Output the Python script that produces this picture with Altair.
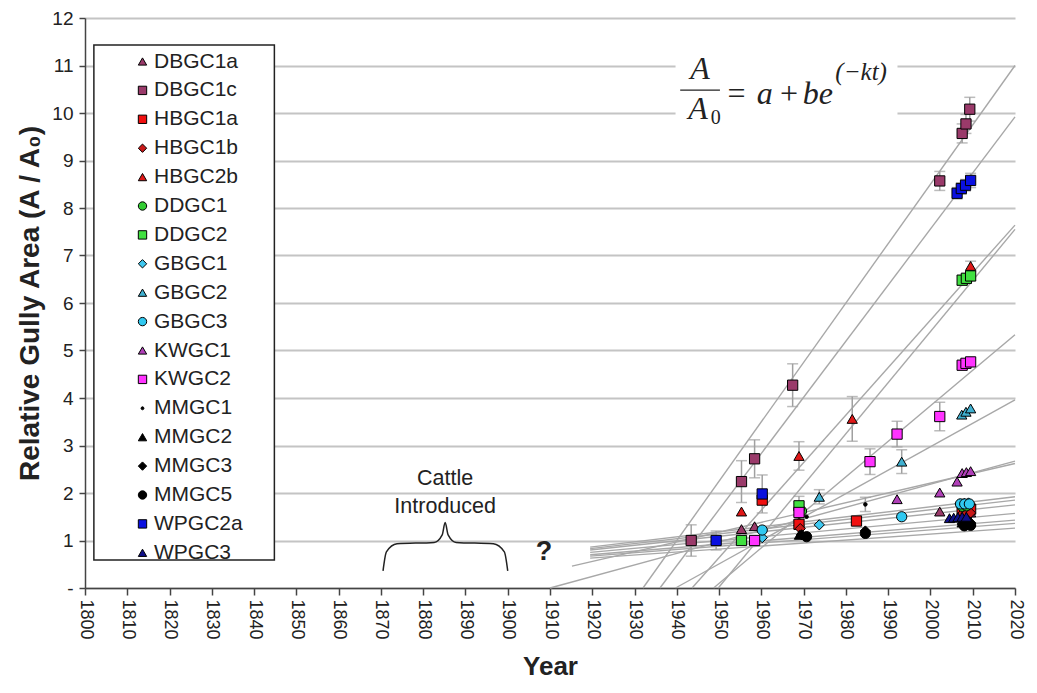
import altair as alt
import pandas as pd

# ---------------- series definitions ----------------
SERIES = ["DBGC1a", "DBGC1c", "HBGC1a", "HBGC1b", "HBGC2b", "DDGC1", "DDGC2",
          "GBGC1", "GBGC2", "GBGC3", "KWGC1", "KWGC2", "MMGC1", "MMGC2",
          "MMGC3", "MMGC5", "WPGC2a", "WPGC3"]
COLORS = ["#9A3A6A", "#9A3A6A", "#F01010", "#C81818", "#E01818", "#33CC33", "#40E040",
          "#40C8F0", "#40B0D0", "#30C8F0", "#B040B8", "#FF33FF", "#000000", "#000000",
          "#000000", "#000000", "#0A10E0", "#10108A"]
DOT = "M-0.35,0A0.35,0.35,0,1,1,0.35,0A0.35,0.35,0,1,1,-0.35,0Z"
SHAPES = ["triangle-up", "square", "square", "diamond", "triangle-up", "circle", "square",
          "diamond", "triangle-up", "circle", "triangle-up", "square", DOT, "triangle-up",
          "diamond", "circle", "square", "triangle-up"]

# observations: (year, A/A0, error half-width)
DBGC1a = [(1955.3, 1.24, 0), (1958.4, 1.30, 0), (1968.9, 1.40, 0), (2002.2, 1.61, 0),
          (2007.5, 1.55, 0), (2008.5, 1.57, 0), (2009.5, 1.59, 0)]
DBGC1c = [(1943.4, 1.00, 0.33), (1955.3, 2.24, 0.44), (1958.4, 2.72, 0.40), (1967.4, 4.27, 0.45),
          (2002.2, 8.57, 0.20), (2007.5, 9.57, 0.20), (2008.4, 9.77, 0.20), (2009.3, 10.08, 0.25)]
HBGC1a = [(1960.2, 1.85, 0), (1968.9, 1.34, 0), (1982.5, 1.41, 0), (2007.5, 1.64, 0),
          (2008.5, 1.65, 0), (2009.5, 1.66, 0)]
HBGC1b = [(1969.2, 1.25, 0), (2007.5, 1.56, 0), (2008.5, 1.57, 0), (2009.5, 1.58, 0)]
HBGC2b = [(1955.3, 1.61, 0), (1968.9, 2.78, 0.30), (1981.5, 3.56, 0.47), (2009.5, 6.78, 0.10)]
DDGC1 = [(1969.5, 1.62, 0), (2007.5, 1.72, 0), (2008.5, 1.73, 0)]
DDGC2 = [(1955.3, 1.00, 0), (1968.9, 1.73, 0.20), (2007.5, 6.48, 0.10), (2008.5, 6.52, 0.10),
         (2009.5, 6.57, 0.10)]
GBGC1 = [(1960.2, 1.06, 0), (1973.7, 1.33, 0), (2007.0, 1.77, 0), (2008.0, 1.78, 0),
         (2009.0, 1.79, 0)]
GBGC2 = [(1973.7, 1.92, 0.15), (1993.2, 2.66, 0.25), (2007.4, 3.65, 0), (2008.4, 3.71, 0),
         (2009.5, 3.78, 0)]
GBGC3 = [(1960.2, 1.22, 0), (1993.2, 1.50, 0), (2007.1, 1.77, 0), (2008.1, 1.77, 0),
         (2009.2, 1.77, 0)]
KWGC1 = [(1992.1, 1.87, 0), (2002.2, 2.01, 0), (2006.3, 2.24, 0), (2007.5, 2.42, 0),
         (2008.5, 2.44, 0), (2009.5, 2.46, 0)]
KWGC2 = [(1958.4, 1.00, 0), (1968.9, 1.59, 0), (1985.7, 2.66, 0.27), (1992.1, 3.24, 0.27),
         (2002.2, 3.61, 0.30), (2007.5, 4.69, 0), (2008.4, 4.73, 0), (2009.5, 4.76, 0)]
MMGC1 = [(1970.7, 1.50, 0), (1984.6, 1.76, 0.15), (2008.0, 1.45, 0)]
MMGC2 = [(1969.0, 1.12, 0), (2007.5, 1.38, 0), (2008.5, 1.39, 0), (2009.5, 1.40, 0)]
MMGC3 = [(1969.5, 1.12, 0), (1984.6, 1.20, 0), (2007.5, 1.35, 0), (2008.5, 1.36, 0),
         (2009.5, 1.37, 0)]
MMGC5 = [(1970.7, 1.08, 0), (1984.6, 1.15, 0), (2008.0, 1.31, 0), (2009.5, 1.32, 0)]
WPGC2a = [(1949.3, 1.00, 0.20), (1960.2, 1.98, 0.40), (2006.3, 8.31, 0.12), (2007.3, 8.41, 0.12),
          (2008.3, 8.48, 0.12), (2009.5, 8.58, 0.15)]
WPGC3 = [(2004.5, 1.47, 0), (2005.5, 1.48, 0), (2006.5, 1.49, 0), (2007.5, 1.50, 0),
         (2008.5, 1.50, 0)]

OBS = {"DBGC1a": DBGC1a, "DBGC1c": DBGC1c, "HBGC1a": HBGC1a, "HBGC1b": HBGC1b,
       "HBGC2b": HBGC2b, "DDGC1": DDGC1, "DDGC2": DDGC2, "GBGC1": GBGC1, "GBGC2": GBGC2,
       "GBGC3": GBGC3, "KWGC1": KWGC1, "KWGC2": KWGC2, "MMGC1": MMGC1, "MMGC2": MMGC2,
       "MMGC3": MMGC3, "MMGC5": MMGC5, "WPGC2a": WPGC2a, "WPGC3": WPGC3}

# fitted trend curves: (year, A/A0)
FIT_DBGC1c = [(1932.0, 0.0), (2020.0, 11.00)]
FIT_WPGC2a = [(1936.0, 0.0), (2020.0, 9.92)]
FIT_HBGC2b = [(1943.6, 0.0), (2020.0, 7.64)]
FIT_DDGC2 = [(1949.8, 0.0), (2020.0, 7.55)]
FIT_KWGC2 = [(1948.7, 0.0), (2020.0, 5.33)]
FIT_GBGC2 = [(1939.7, 0.0), (2020.0, 3.96)]
FIT_KWGC1 = [(1910.0, 0.0), (2020.0, 2.67)]
FIT_MMGC1 = [(1915.2, 0.46), (2020.0, 2.62)]
FIT_GBGC3 = [(1919.5, 0.86), (2020.0, 1.92)]
FIT_GBGC1 = [(1919.5, 0.83), (2020.0, 1.85)]
FIT_DBGC1a = [(1919.5, 0.80), (2020.0, 1.75)]
FIT_HBGC1a = [(1919.5, 0.75), (2020.0, 1.57)]
FIT_WPGC3 = [(1919.5, 0.70), (2020.0, 1.43)]
FIT_MMGC3 = [(1919.5, 0.67), (2020.0, 1.36)]
FIT_MMGC5 = [(1919.5, 0.63), (2020.0, 1.26)]
FITS = {"DBGC1c": FIT_DBGC1c, "WPGC2a": FIT_WPGC2a, "HBGC2b": FIT_HBGC2b,
        "DDGC2": FIT_DDGC2, "KWGC2": FIT_KWGC2, "GBGC2": FIT_GBGC2, "KWGC1": FIT_KWGC1,
        "MMGC1": FIT_MMGC1, "GBGC3": FIT_GBGC3, "GBGC1": FIT_GBGC1, "DBGC1a": FIT_DBGC1a,
        "HBGC1a": FIT_HBGC1a, "WPGC3": FIT_WPGC3, "MMGC3": FIT_MMGC3, "MMGC5": FIT_MMGC5}

# annotations
X_TICKS = list(range(1800, 2021, 10))
Y_TICKS = list(range(0, 13))
LEGEND_BOX = [(1802.1, 1844.8, 0.59, 11.43)]
BRACE = [(1870.5, 0.36), (1871.3, 0.76), (1873.8, 0.93), (1882.6, 0.96), (1884.5, 1.12),
         (1885.2, 1.38), (1885.9, 1.12), (1887.8, 0.96), (1896.6, 0.93), (1899.2, 0.76),
         (1900.0, 0.36)]
CATTLE_TEXT = [("Cattle", 1885.2, 2.29), ("Introduced", 1885.2, 1.71)]
QUESTION = [("?", 1908.6, 0.76)]
FORMULA_BOX = [(1939.7, 1992.2, 9.78, 11.5)]
FRACTION_BAR = [(1940.8, 1950.2, 10.48)]
FORMULA_CENTER = [("A", 1945.5, 10.92, 32), ("A", 1945.0, 10.08, 32)]
FORMULA_ITALIC = [("a", 1958.9, 10.40, 32), ("be", 1969.8, 10.40, 32),
                  ("(\u2212kt)", 1977.5, 10.86, 25)]
FORMULA_UPRIGHT = [("0", 1948.0, 9.90, 20), ("=", 1952.0, 10.40, 32),
                   ("+", 1964.4, 10.40, 32)]

# ---------------- tables ----------------
pts = pd.DataFrame([{"series": s, "year": y, "val": v, "err": e}
                    for s in SERIES for (y, v, e) in OBS[s]])
errs = pts[pts["err"] > 0].copy()
errs["lo"] = errs["val"] - errs["err"]
errs["hi"] = errs["val"] + errs["err"]
fits = pd.DataFrame([{"series": s, "year": y, "val": v, "i": i}
                     for s, lst in FITS.items() for i, (y, v) in enumerate(lst)])
brace = pd.DataFrame([{"year": y, "val": v, "i": i} for i, (y, v) in enumerate(BRACE)])
cattle = pd.DataFrame([{"t": t, "year": y, "val": v} for t, y, v in CATTLE_TEXT])
quest = pd.DataFrame([{"t": t, "year": y, "val": v} for t, y, v in QUESTION])
fbox = pd.DataFrame([{"year": a, "x2": b, "val": c, "y2": d} for a, b, c, d in FORMULA_BOX])
lbox = pd.DataFrame([{"year": a, "x2": b, "val": c, "y2": d} for a, b, c, d in LEGEND_BOX])
fbar = pd.DataFrame([{"year": a, "x2": b, "val": c} for a, b, c in FRACTION_BAR])
fcen = pd.DataFrame([{"t": t, "year": y, "val": v, "fs": f} for t, y, v, f in FORMULA_CENTER])
fital = pd.DataFrame([{"t": t, "year": y, "val": v, "fs": f} for t, y, v, f in FORMULA_ITALIC])
fup = pd.DataFrame([{"t": t, "year": y, "val": v, "fs": f} for t, y, v, f in FORMULA_UPRIGHT])

FONT = "Liberation Sans"
SERIF = "Liberation Serif"

xscale = alt.Scale(domain=[1800, 2020], nice=False, zero=False)
yscale = alt.Scale(domain=[0, 12], nice=False, zero=False)

xaxis = alt.Axis(values=X_TICKS, format="d", labelAngle=90, labelFont=FONT, labelFontSize=18,
                 labelColor="#222222", title="Year", titleFont=FONT, titleFontSize=26,
                 titleFontWeight="bold", titleColor="#222222", titlePadding=14,
                 grid=False, domainColor="#444444", domainWidth=1.5, tickColor="#444444",
                 tickSize=7, tickWidth=1.5, labelPadding=4, labelFlush=False, labelOverlap=False)
yaxis = alt.Axis(values=Y_TICKS, labelExpr="datum.value == 0 ? '-' : datum.label",
                 labelFont=FONT, labelFontSize=19, labelColor="#222222",
                 title="Relative Gully Area (A / A\u2080)", titleFont=FONT, titleFontSize=28,
                 titleFontWeight="bold", titleColor="#222222", titlePadding=7,
                 grid=True, gridColor="#C4C4C4", gridWidth=2, domainColor="#444444",
                 domainWidth=1.5, tickColor="#444444", tickSize=6, tickWidth=1.5,
                 labelPadding=6)

X = alt.X("year:Q", scale=xscale, axis=xaxis)
Y = alt.Y("val:Q", scale=yscale, axis=yaxis)

box_layer = alt.Chart(fbox).mark_rect(color="white").encode(x=X, x2="x2:Q", y=Y, y2="y2:Q")
lbox_layer = alt.Chart(lbox).mark_rect(fill="white", stroke="#222222", strokeWidth=1.5).encode(
    x=X, x2="x2:Q", y=Y, y2="y2:Q")

fit_layer = alt.Chart(fits).mark_line(color="#A8A8A8", strokeWidth=1.4).encode(
    x=X, y=Y, detail="series:N", order="i:Q")

err_rule = alt.Chart(errs).mark_rule(color="#A0A0A0", strokeWidth=1.5).encode(
    x=X, y=alt.Y("lo:Q", scale=yscale, axis=yaxis), y2="hi:Q")
err_lo = alt.Chart(errs).mark_tick(color="#A0A0A0", orient="horizontal", size=11,
                                   thickness=1.5).encode(x=X, y=alt.Y("lo:Q", scale=yscale, axis=yaxis))
err_hi = alt.Chart(errs).mark_tick(color="#A0A0A0", orient="horizontal", size=11,
                                   thickness=1.5).encode(x=X, y=alt.Y("hi:Q", scale=yscale, axis=yaxis))

legend = alt.Legend(title=None, orient="none", legendX=9, legendY=25, labelFont=FONT,
                    labelFontSize=21, labelColor="#222222", symbolSize=70,
                    symbolStrokeColor="black", symbolStrokeWidth=1, symbolOffset=30,
                    labelOffset=1, padding=8, rowPadding=6.9, symbolType="square")

point_layer = alt.Chart(pts).mark_point(filled=True, size=105, stroke="black",
                                        strokeWidth=1, opacity=1).encode(
    x=X, y=Y,
    color=alt.Color("series:N", scale=alt.Scale(domain=SERIES, range=COLORS), legend=legend),
    shape=alt.Shape("series:N", scale=alt.Scale(domain=SERIES, range=SHAPES), legend=legend),
)

brace_layer = alt.Chart(brace).mark_line(color="#222222", strokeWidth=1.5,
                                         interpolate="monotone").encode(x=X, y=Y, order="i:Q")
cattle_layer = alt.Chart(cattle).mark_text(font=FONT, fontSize=21.5, color="#222222").encode(
    x=X, y=Y, text="t:N")
quest_layer = alt.Chart(quest).mark_text(font=FONT, fontSize=27, fontWeight="bold",
                                         color="#222222").encode(x=X, y=Y, text="t:N")
fbar_layer = alt.Chart(fbar).mark_rule(color="#222222", strokeWidth=1.3).encode(
    x=X, x2="x2:Q", y=Y)
fcen_layer = alt.Chart(fcen).mark_text(font=SERIF, fontStyle="italic", color="#222222",
                                       align="center", baseline="middle").encode(
    x=X, y=Y, text="t:N", size=alt.Size("fs:Q", scale=None, legend=None))
fital_layer = alt.Chart(fital).mark_text(font=SERIF, fontStyle="italic", color="#222222",
                                         align="left", baseline="middle").encode(
    x=X, y=Y, text="t:N", size=alt.Size("fs:Q", scale=None, legend=None))
fup_layer = alt.Chart(fup).mark_text(font=SERIF, color="#222222",
                                     align="left", baseline="middle").encode(
    x=X, y=Y, text="t:N", size=alt.Size("fs:Q", scale=None, legend=None))

chart = alt.layer(
    box_layer, lbox_layer, fit_layer, err_rule, err_lo, err_hi, point_layer,
    brace_layer, cattle_layer, quest_layer, fbar_layer, fcen_layer, fital_layer, fup_layer
).properties(
    width=930, height=570,
    autosize=alt.AutoSizeParams(type="none"),
    padding={"left": 77, "top": 10, "right": 14, "bottom": 97},
).configure_view(stroke=None).resolve_scale(size="independent")

chart.save("out.html", embed_options={"renderer": "svg", "actions": False})
